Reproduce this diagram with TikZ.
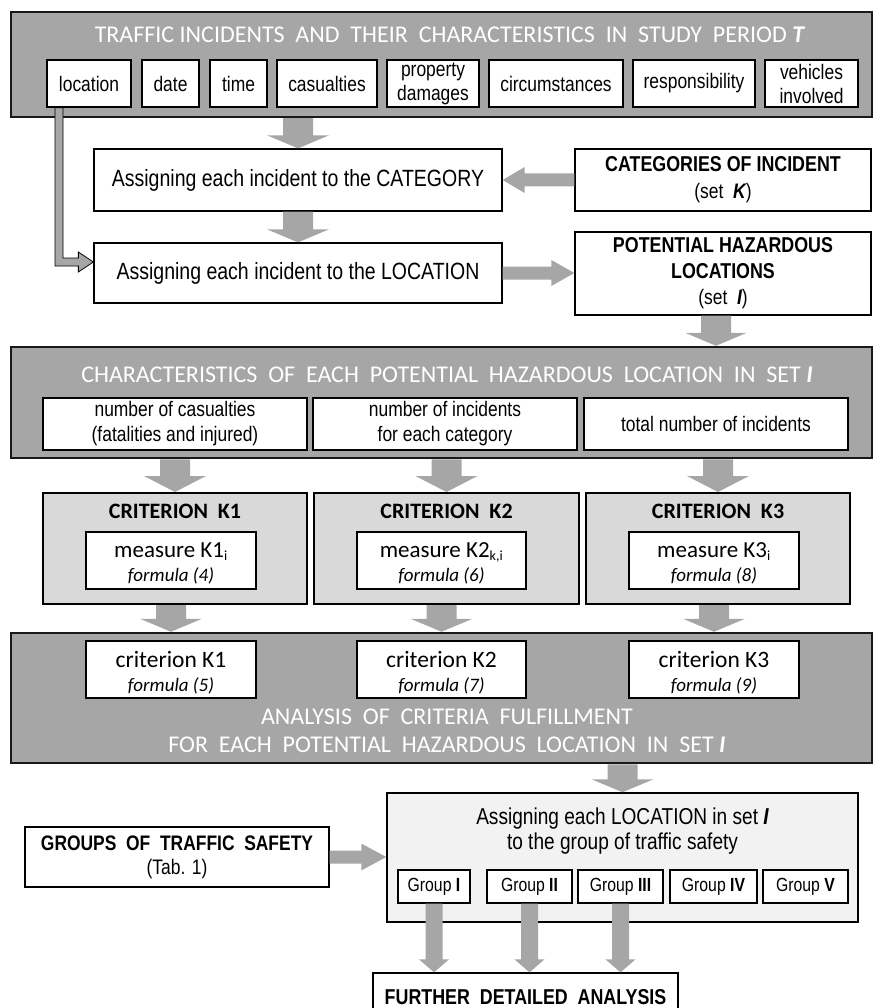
\documentclass[tikz,border=0pt]{standalone}
\usepackage{fontspec}
\setmainfont{Liberation Sans}
\newfontfamily\narf[FakeStretch=0.83]{Liberation Sans}
\newfontfamily\calf{Carlito}
\usetikzlibrary{calc}
\definecolor{pgray}{HTML}{A6A6A6}
\definecolor{lgray}{HTML}{D9D9D9}
\definecolor{vlgray}{HTML}{F2F2F2}
\newcommand\shd[2]{{\color{#2}#1}}
\newcommand\fsz[2]{\fontsize{#1}{#2}\selectfont}
% vertical block arrow: #1 x-ref, #2 from, #3 to, #4 shaft half, #5 head half, #6 head length
\newcommand\blkdown[6]{\fill[pgray] let \p1=(#1), \p2=(#2), \p3=(#3) in
  (\x1-#4,\y2) -- (\x1+#4,\y2) -- (\x1+#4,\y3+#6) -- (\x1+#5,\y3+#6) -- (\x1,\y3)
  -- (\x1-#5,\y3+#6) -- (\x1-#4,\y3+#6) -- cycle;}
\newcommand\blkright[6]{\fill[pgray] let \p1=(#1), \p2=(#2), \p3=(#3) in
  (\x2,\y1+#4) -- (\x3-#6,\y1+#4) -- (\x3-#6,\y1+#5) -- (\x3,\y1) -- (\x3-#6,\y1-#5)
  -- (\x3-#6,\y1-#4) -- (\x2,\y1-#4) -- cycle;}
\newcommand\blkleft[6]{\fill[pgray] let \p1=(#1), \p2=(#2), \p3=(#3) in
  (\x2,\y1+#4) -- (\x3+#6,\y1+#4) -- (\x3+#6,\y1+#5) -- (\x3,\y1) -- (\x3+#6,\y1-#5)
  -- (\x3+#6,\y1-#4) -- (\x2,\y1-#4) -- cycle;}
\tikzset{
  panel/.style={draw=black!90, line width=2.5pt, fill=pgray, inner sep=0pt},
  wbox/.style={draw=black, line width=1.3pt, fill=white, inner sep=0pt, align=center},
  critbox/.style={draw=black, line width=2pt, fill=lgray, inner sep=0pt},
  asbox/.style={draw=black, line width=1.5pt, fill=vlgray, inner sep=0pt},
  ptitle/.style={inner sep=0pt, anchor=base, text=white, font=\calf\fsz{24}{28}},
  lbl/.style={inner sep=0pt, anchor=base},
  small/.style={wbox, minimum height=47pt, font=\narf\fsz{21}{24}},
}
\begin{document}
\begin{tikzpicture}[x=1pt,y=-1pt]
\useasboundingbox (0,0) rectangle (874,1008);

% ---------- top panel ----------
\node[panel, minimum width=861pt, minimum height=105pt] (top) at (441.5,64.5) {};
\node[ptitle] (ttl) at (449.5,43) {TRAFFIC INCIDENTS\ \ AND\ \ THEIR\ \ CHARACTERISTICS\ \ IN\ \ STUDY\ \ PERIOD \shd{\bfseries\itshape T}{white}};
\node[small, minimum width=84pt]  (loc)  at (89,83.5)    {location};
\node[small, minimum width=57pt]  (date) at (170.5,83.5) {date};
\node[small, minimum width=57pt]  (time) at (238.5,83.5) {time};
\node[small, minimum width=100pt] (cas)  at (327,83.5)   {casualties};
\node[small, minimum width=92pt]  (prop) at (433,83.5)   {property\\damages};
\node[small, minimum width=134pt] (circ) at (556,83.5)   {circumstances};
\node[small, minimum width=122pt] (resp) at (694,83.5)   {responsibility};
\node[small, minimum width=93pt]  (veh)  at (811.5,83.5) {vehicles\\involved};

% ---------- category / location ----------
\node[wbox, minimum width=408pt, minimum height=62pt, font=\narf\fsz{23.5}{27}] (cat) at (298,180) {Assigning each incident to the CATEGORY};
\node[wbox, minimum width=296pt, minimum height=62pt, font=\narf\fsz{21}{27}] (cats) at (723,180)
  {{\bfseries\fsz{21.5}{27}CATEGORIES OF INCIDENT}\\(set\ \ \shd{\bfseries\itshape K}{black})};
\node[wbox, minimum width=408pt, minimum height=60pt, font=\narf\fsz{23.5}{27}] (locn) at (298,273) {Assigning each incident to the LOCATION};
\node[wbox, minimum width=296pt, minimum height=83pt, font=\narf\fsz{21}{26}] (pot) at (723,273.5)
  {{\bfseries\fsz{21.5}{26}POTENTIAL HAZARDOUS}\\{\bfseries\fsz{21.5}{26}LOCATIONS}\\(set\ \ \shd{\bfseries\itshape I}{black})};

\blkdown{cat.north}{top.south}{cat.north}{15pt}{31pt}{13pt}
\blkdown{cat.south}{cat.south}{locn.north}{15pt}{31pt}{13pt}
\blkleft{cats.west}{cats.west}{cat.east}{6.5pt}{13pt}{22pt}
\blkright{locn.east}{locn.east}{pot.west}{6.5pt}{13pt}{23pt}

% location connector
\coordinate (lc) at ($(loc.south)+(-30,0)$);
\coordinate (lt) at ($(locn.west)+(0,-11)$);
\filldraw[fill=pgray, draw=black, line width=0.8pt] let \p1=(lc), \p2=(lt) in
  (\x1-4pt,\y1) -- (\x1-4pt,\y2-4pt) -- (\x2-15pt,\y2-4pt) -- (\x2-15pt,\y2-10pt) -- (\x2,\y2)
  -- (\x2-15pt,\y2+10pt) -- (\x2-15pt,\y2+4pt) -- (\x1+4pt,\y2+4pt) -- (\x1+4pt,\y1) -- cycle;

% ---------- characteristics panel ----------
\node[panel, minimum width=861pt, minimum height=111pt] (char) at (441.5,402.5) {};
\node[ptitle] (chtl) at (447,382) {CHARACTERISTICS\ \ OF\ \ EACH\ \ POTENTIAL\ \ HAZARDOUS\ \ LOCATION\ \ IN\ \ SET \shd{\bfseries\itshape I}{white}};
\node[wbox, minimum width=264pt, minimum height=52pt, font=\narf\fsz{21}{25}] (sub1) at (175,424) {number of casualties\\(fatalities and injured)};
\node[wbox, minimum width=264pt, minimum height=52pt, font=\narf\fsz{21}{25}] (sub2) at (445,424) {number of incidents\\for each category};
\node[wbox, minimum width=264pt, minimum height=52pt, font=\narf\fsz{21}{25}] (sub3) at (716,424) {total number of incidents};
\blkdown{sub3.north}{pot.south}{char.north}{15pt}{31pt}{13pt}

% ---------- criteria ----------
\node[critbox, minimum width=264pt, minimum height=111pt] (cr1) at (175,548.5) {};
\node[critbox, minimum width=265pt, minimum height=111pt] (cr2) at (446.5,548.5) {};
\node[critbox, minimum width=264pt, minimum height=111pt] (cr3) at (718,548.5) {};
\node[lbl, font=\calf\bfseries\fsz{22}{26}] (cr1t) at (175,518) {CRITERION\ \ K1};
\node[lbl, font=\calf\bfseries\fsz{22}{26}] (cr2t) at (446.5,518) {CRITERION\ \ K2};
\node[lbl, font=\calf\bfseries\fsz{22}{26}] (cr3t) at (718,518) {CRITERION\ \ K3};
\node[wbox, minimum width=170pt, minimum height=57pt] (m1) at (171,560.5) {};
\node[wbox, minimum width=169pt, minimum height=57pt] (m2) at (441.5,560.5) {};
\node[wbox, minimum width=170pt, minimum height=57pt] (m3) at (714,560.5) {};
\node[lbl, font=\calf\fsz{23}{27}] (m1a) at (171,557) {measure K1\textsubscript{\fsz{14}{16}i}};
\node[lbl, font=\calf\fsz{23}{27}] (m2a) at (441.5,557) {measure K2\textsubscript{\fsz{14}{16}k,i}};
\node[lbl, font=\calf\fsz{23}{27}] (m3a) at (714,557) {measure K3\textsubscript{\fsz{14}{16}i}};
\node[lbl, font=\calf\itshape\fsz{19}{23}] (m1b) at (171,581) {formula (4)};
\node[lbl, font=\calf\itshape\fsz{19}{23}] (m2b) at (441.5,581) {formula (6)};
\node[lbl, font=\calf\itshape\fsz{19}{23}] (m3b) at (714,581) {formula (8)};
\blkdown{cr1.north}{char.south}{cr1.north}{15pt}{31pt}{16pt}
\blkdown{cr2.north}{char.south}{cr2.north}{15pt}{31pt}{16pt}
\blkdown{cr3.north}{char.south}{cr3.north}{15pt}{31pt}{16pt}

% ---------- analysis panel ----------
\node[panel, minimum width=861pt, minimum height=130pt] (ana) at (441.5,698) {};
\blkdown{m1.south}{cr1.south}{ana.north}{15pt}{31pt}{13pt}
\blkdown{m2.south}{cr2.south}{ana.north}{15pt}{31pt}{13pt}
\blkdown{m3.south}{cr3.south}{ana.north}{15pt}{31pt}{13pt}
\node[wbox, minimum width=170pt, minimum height=57pt] (r1) at (171,669.5) {};
\node[wbox, minimum width=169pt, minimum height=57pt] (r2) at (441.5,669.5) {};
\node[wbox, minimum width=170pt, minimum height=57pt] (r3) at (714,669.5) {};
\node[lbl, font=\calf\fsz{23.5}{27}] (r1a) at (171,667) {criterion K1};
\node[lbl, font=\calf\fsz{23.5}{27}] (r2a) at (441.5,667) {criterion K2};
\node[lbl, font=\calf\fsz{23.5}{27}] (r3a) at (714,667) {criterion K3};
\node[lbl, font=\calf\itshape\fsz{19}{23}] (r1b) at (171,691) {formula (5)};
\node[lbl, font=\calf\itshape\fsz{19}{23}] (r2b) at (441.5,691) {formula (7)};
\node[lbl, font=\calf\itshape\fsz{19}{23}] (r3b) at (714,691) {formula (9)};
\node[ptitle] (an1) at (447,724) {ANALYSIS\ \ OF\ \ CRITERIA\ \ FULFILLMENT};
\node[ptitle] (an2) at (447,752) {FOR\ \ EACH\ \ POTENTIAL\ \ HAZARDOUS\ \ LOCATION\ \ IN\ \ SET \shd{\bfseries\itshape I}{white}};

% ---------- assigning to groups ----------
\node[asbox, minimum width=471pt, minimum height=129pt] (asg) at (622.5,857.5) {};
\node[inner sep=0pt, align=center, font=\narf\fsz{23}{25}] (asgt) at (622.5,831) {Assigning each LOCATION in set \shd{\bfseries\itshape I}{black}\\to the group of traffic safety};
\blkdown{asg.north}{ana.south}{asg.north}{15pt}{31pt}{13pt}
\node[wbox, minimum width=72pt, minimum height=33pt, font=\narf\fsz{19}{22}] (g1) at (434,886.5) {Group \shd{\bfseries I}{black}};
\node[wbox, minimum width=85pt, minimum height=33pt, font=\narf\fsz{19}{22}] (g2) at (529.5,886.5) {Group \shd{\bfseries II}{black}};
\node[wbox, minimum width=85pt, minimum height=33pt, font=\narf\fsz{19}{22}] (g3) at (620.5,886.5) {Group \shd{\bfseries III}{black}};
\node[wbox, minimum width=87pt, minimum height=33pt, font=\narf\fsz{19}{22}] (g4) at (713.5,886.5) {Group \shd{\bfseries IV}{black}};
\node[wbox, minimum width=85pt, minimum height=33pt, font=\narf\fsz{19}{22}] (g5) at (805.5,886.5) {Group \shd{\bfseries V}{black}};
\node[wbox, minimum width=304pt, minimum height=60pt, font=\narf\fsz{21}{24}] (grp) at (177,857)
  {{\bfseries GROUPS\ \ OF\ \ TRAFFIC\ \ SAFETY}\\(Tab. 1)};
\blkright{grp.east}{grp.east}{asg.west}{6.5pt}{13.5pt}{25pt}
\node[wbox, minimum width=305pt, minimum height=48pt, font=\narf\bfseries\fsz{21.5}{26}] (fur) at (525.5,997) {FURTHER\ \ DETAILED\ \ ANALYSIS};
\blkdown{g1.south}{g1.south}{fur.north}{8.5pt}{15pt}{13pt}
\blkdown{g2.south}{g2.south}{fur.north}{8.5pt}{15pt}{13pt}
\blkdown{g3.south}{g3.south}{fur.north}{8.5pt}{15pt}{13pt}
\end{tikzpicture}
\end{document}
